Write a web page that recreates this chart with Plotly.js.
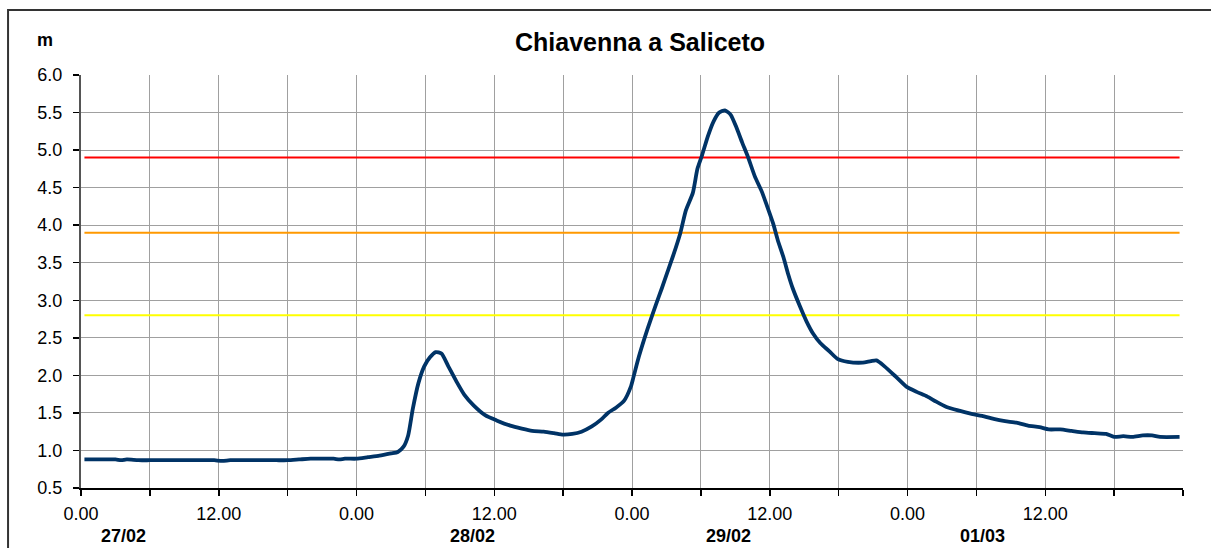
<!DOCTYPE html>
<html>
<head>
<meta charset="utf-8">
<script src="https://cdn.plot.ly/plotly-3.0.1.min.js"></script>
<style>html,body{margin:0;padding:0;background:#fff;}#chart{width:1211px;height:548px;}</style>
</head>
<body>
<div id="chart"></div>
<script>
// hours since 27/02 0.00
const hours = [0.3,1,2,3,3.5,4,5,6,7,8,9,10,11,11.6,12.3,13,14,15,16,17,18,19,20,21,22,22.5,23,24,25,26,27,27.6,28.1,28.5,28.9,29.4,29.9,30.4,30.9,31.4,32,32.7,33.4,34.2,35.2,36.2,37.4,38.4,39.3,40.3,41.2,42,42.8,43.6,44.5,45.3,45.9,46.6,47.3,47.9,48.1,48.6,49.1,49.6,50.1,50.6,51.1,51.6,52.2,52.7,53.3,53.7,54.1,54.6,55.1,55.6,56.1,56.6,57.1,57.6,58.1,58.7,59.3,59.8,60.3,60.7,61.2,61.6,62.0,62.6,63.2,63.8,64.4,65.2,65.9,66.8,68.1,68.8,69.3,70.0,71.0,71.9,72.8,73.7,74.5,75.4,76.5,77.5,78.5,79.5,80.5,81.5,82.5,83.5,84.3,85.3,86.3,87.3,88.3,89.3,90,90.8,91.6,92.5,93.3,94,95.7];
const levels = [0.88,0.88,0.88,0.88,0.87,0.88,0.87,0.87,0.87,0.87,0.87,0.87,0.87,0.87,0.86,0.87,0.87,0.87,0.87,0.87,0.87,0.88,0.89,0.89,0.89,0.88,0.89,0.89,0.91,0.93,0.96,0.98,1.05,1.2,1.55,1.9,2.12,2.24,2.31,2.29,2.12,1.92,1.74,1.6,1.47,1.4,1.33,1.29,1.26,1.25,1.23,1.21,1.22,1.25,1.32,1.41,1.5,1.57,1.66,1.85,1.96,2.25,2.5,2.73,2.95,3.16,3.38,3.6,3.89,4.2,4.43,4.75,4.93,5.18,5.38,5.5,5.53,5.47,5.3,5.1,4.91,4.65,4.45,4.24,4.02,3.8,3.57,3.35,3.16,2.93,2.72,2.55,2.43,2.32,2.22,2.18,2.17,2.19,2.2,2.12,1.98,1.85,1.78,1.72,1.65,1.58,1.53,1.49,1.46,1.42,1.39,1.37,1.33,1.31,1.28,1.28,1.26,1.24,1.23,1.22,1.18,1.19,1.18,1.2,1.2,1.18,1.18];

const thresholdX = [0.3, 95.7];
const thresholdRed = 4.9;
const thresholdOrange = 3.9;
const thresholdYellow = 2.8;

const tickHours = [0,6,12,18,24,30,36,42,48,54,60,66,72,78,84,90,96];
const tickLabels = ["0.00","","12.00","","0.00","","12.00","","0.00","","12.00","","0.00","","12.00","",""];
const dateLabels = ["27/02","28/02","29/02","01/03"];
const dateLabelHours = [3.66,34.1,56.4,78.5];

const traces = [
  {x: thresholdX, y: [thresholdRed, thresholdRed], mode:'lines', line:{color:'#FF0000', width:2}, hoverinfo:'skip'},
  {x: thresholdX, y: [thresholdOrange, thresholdOrange], mode:'lines', line:{color:'#FF9900', width:2}, hoverinfo:'skip'},
  {x: thresholdX, y: [thresholdYellow, thresholdYellow], mode:'lines', line:{color:'#FFFF00', width:2}, hoverinfo:'skip'},
  {x: hours, y: levels, mode:'lines', line:{color:'#003366', width:3.8, shape:'spline', smoothing:0.6}}
];

const annotations = dateLabels.map((t,i)=>({
  text: '<b>'+t+'</b>', x: dateLabelHours[i], xref:'x', y:0, yref:'paper', yshift:-48,
  showarrow:false, xanchor:'center', yanchor:'middle',
  font:{family:'Liberation Sans, Arial, sans-serif', size:18, color:'#000'}
}));
annotations.push({text:'<b>m</b>', xref:'paper', yref:'paper', x:-0.0327, y:1.0847,
  showarrow:false, xanchor:'center', yanchor:'middle',
  font:{family:'Liberation Sans, Arial, sans-serif', size:18, color:'#000'}});

const layout = {
  width:1211, height:548,
  margin:{l:81, r:28, t:75, b:60},
  paper_bgcolor:'#fff', plot_bgcolor:'#fff',
  showlegend:false,
  title:{text:'<b>Chiavenna a Saliceto</b>', xref:'container', yref:'container', x:0.5285, y:0.923,
    xanchor:'center', yanchor:'middle',
    font:{family:'Liberation Sans, Arial, sans-serif', size:25, color:'#000'}},
  xaxis:{range:[0,96], tickmode:'array', tickvals:tickHours, ticktext:tickLabels,
    showgrid:true, gridcolor:'#a0a0a0', gridwidth:1, zeroline:false,
    showline:true, linecolor:'#000', linewidth:1.5,
    ticks:'outside', ticklen:6, tickcolor:'#000', tickwidth:1.5, ticklabelstandoff:3,
    tickfont:{family:'Liberation Sans, Arial, sans-serif', size:18, color:'#000'}},
  yaxis:{range:[0.5,6.0], tickmode:'array', tickvals:[0.5,1,1.5,2,2.5,3,3.5,4,4.5,5,5.5,6],
    ticktext:['0.5','1.0','1.5','2.0','2.5','3.0','3.5','4.0','4.5','5.0','5.5','6.0'],
    showgrid:true, gridcolor:'#a0a0a0', gridwidth:1, zeroline:false,
    showline:true, linecolor:'#555', linewidth:2,
    ticks:'outside', ticklen:6, tickcolor:'#000', tickwidth:1.5, ticklabelstandoff:7,
    tickfont:{family:'Liberation Sans, Arial, sans-serif', size:18, color:'#000'}},
  shapes:[{type:'rect', xref:'paper', yref:'paper', x0:-0.0662, x1:1.2, y0:-0.3, y1:1.1574,
    line:{color:'#333', width:2}, fillcolor:'rgba(0,0,0,0)', layer:'below'}],
  annotations: annotations
};

Plotly.newPlot('chart', traces, layout, {staticPlot:true, displayModeBar:false});
</script>
</body>
</html>
